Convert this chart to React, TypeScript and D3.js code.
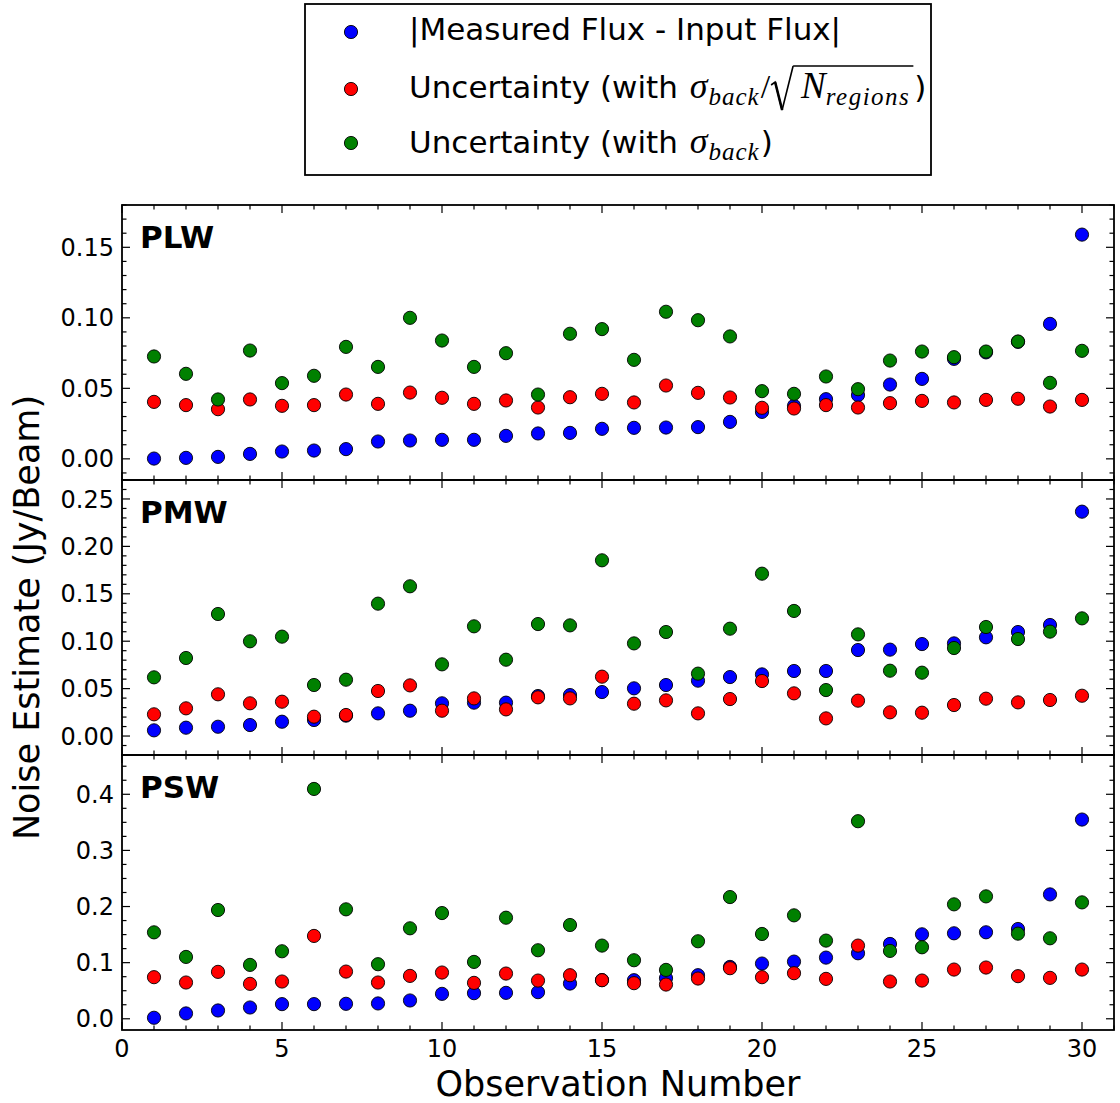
import React, { useEffect, useRef } from "react";
import * as d3 from "d3";

// ---------------- data ----------------
const observationNumbers = [1, 2, 3, 4, 5, 6, 7, 8, 9, 10, 11, 12, 13, 14, 15, 16, 17, 18, 19, 20, 21, 22, 23, 24, 25, 26, 27, 28, 29, 30];

const plwFluxDiff = [0.0002, 0.0007, 0.0014, 0.0035, 0.0052, 0.0059, 0.0069, 0.0123, 0.013, 0.0135, 0.0135, 0.0163, 0.018, 0.0184, 0.0213, 0.022, 0.0222, 0.0225, 0.0262, 0.0333, 0.0376, 0.0423, 0.0452, 0.0527, 0.0567, 0.0709, 0.0755, 0.083, 0.0957, 0.159];
const plwUncRegions = [0.0404, 0.0381, 0.0352, 0.0421, 0.0376, 0.0381, 0.0456, 0.039, 0.047, 0.0433, 0.039, 0.0414, 0.0364, 0.0437, 0.0461, 0.04, 0.052, 0.0468, 0.0435, 0.0362, 0.0357, 0.0381, 0.0364, 0.0395, 0.0411, 0.04, 0.0418, 0.0426, 0.0371, 0.0418];
const plwUncBack = [0.0726, 0.0603, 0.0421, 0.0768, 0.0537, 0.0589, 0.0794, 0.0652, 0.1, 0.0839, 0.0652, 0.0749, 0.0456, 0.0887, 0.092, 0.0702, 0.1043, 0.0983, 0.0868, 0.048, 0.0461, 0.0584, 0.0494, 0.0697, 0.0761, 0.0721, 0.0761, 0.0832, 0.0539, 0.0766];

const pmwFluxDiff = [0.006, 0.0088, 0.0098, 0.0116, 0.0151, 0.0169, 0.0215, 0.0239, 0.0267, 0.0345, 0.0352, 0.0352, 0.0422, 0.0432, 0.0464, 0.0503, 0.0538, 0.0584, 0.0622, 0.065, 0.0686, 0.0686, 0.0907, 0.0911, 0.097, 0.0977, 0.1041, 0.1097, 0.1171, 0.2366];
const pmwUncRegions = [0.0229, 0.0292, 0.044, 0.0345, 0.0362, 0.0204, 0.0222, 0.0475, 0.0534, 0.0267, 0.0397, 0.0281, 0.0408, 0.0397, 0.0626, 0.0341, 0.0376, 0.0239, 0.039, 0.058, 0.045, 0.0186, 0.0373, 0.025, 0.0246, 0.0327, 0.0394, 0.0355, 0.038, 0.0425];
const pmwUncBack = [0.0619, 0.0823, 0.1287, 0.0999, 0.1048, 0.0538, 0.0594, 0.1396, 0.1579, 0.0756, 0.1157, 0.0805, 0.1181, 0.1167, 0.1853, 0.0977, 0.1097, 0.0658, 0.1132, 0.1712, 0.1319, 0.0485, 0.1072, 0.0689, 0.0668, 0.0928, 0.115, 0.1023, 0.1101, 0.1241];

const pswFluxDiff = [0.0018, 0.0095, 0.0148, 0.0201, 0.0261, 0.0261, 0.0267, 0.0273, 0.0326, 0.0444, 0.0456, 0.0462, 0.0474, 0.0628, 0.069, 0.0687, 0.0723, 0.0776, 0.0924, 0.0984, 0.1019, 0.109, 0.1167, 0.1333, 0.1505, 0.1523, 0.1541, 0.16, 0.2216, 0.355];
const pswUncRegions = [0.0741, 0.0646, 0.0836, 0.0622, 0.0664, 0.1476, 0.0841, 0.0646, 0.0764, 0.0824, 0.064, 0.0806, 0.0681, 0.0776, 0.0687, 0.0634, 0.061, 0.0717, 0.0901, 0.0741, 0.0812, 0.0711, 0.1304, 0.0664, 0.0681, 0.0877, 0.0913, 0.0759, 0.0729, 0.0877];
const pswUncBack = [0.154, 0.1102, 0.1938, 0.096, 0.1203, 0.4095, 0.195, 0.0972, 0.1612, 0.1884, 0.1013, 0.1801, 0.1221, 0.1671, 0.1304, 0.1043, 0.0871, 0.1381, 0.2169, 0.1511, 0.1843, 0.1393, 0.352, 0.1209, 0.1274, 0.2039, 0.2181, 0.1517, 0.1434, 0.2074];

const panelNames = ["PLW", "PMW", "PSW"];
const plwYDomain = [-0.015, 0.18];
const pmwYDomain = [-0.02, 0.27];
const pswYDomain = [-0.02, 0.47];
const plwYTicks = [0, 0.05, 0.1, 0.15];
const pmwYTicks = [0, 0.05, 0.1, 0.15, 0.2, 0.25];
const pswYTicks = [0, 0.1, 0.2, 0.3, 0.4];
const plwMinorStep = 0.01;
const pmwMinorStep = 0.01;
const pswMinorStep = 0.025;

const xDomain = [0, 31];
const xMajorTicks = [0, 5, 10, 15, 20, 25, 30];

const seriesColors = ["#0000ff", "#ff0000", "#008000"];
const legendFirstLabel = "|Measured Flux - Input Flux|";
const legendUncPrefix = "Uncertainty (with";
const xAxisTitle = "Observation Number";
const yAxisTitle = "Noise Estimate (Jy/Beam)";

// ---------------- layout ----------------
const W = 1120;
const H = 1103;
const LEFT = 122;
const RIGHT = 1114;
const TOP = 205;
const PANEL_H = 275;
const SANS = "'DejaVu Sans', sans-serif";
const SERIF = "'Liberation Serif', 'DejaVu Serif', serif";

const panels = [
  { name: panelNames[0], domain: plwYDomain, ticks: plwYTicks, minor: plwMinorStep, fmt: d3.format(".2f"), series: [plwFluxDiff, plwUncRegions, plwUncBack] },
  { name: panelNames[1], domain: pmwYDomain, ticks: pmwYTicks, minor: pmwMinorStep, fmt: d3.format(".2f"), series: [pmwFluxDiff, pmwUncRegions, pmwUncBack] },
  { name: panelNames[2], domain: pswYDomain, ticks: pswYTicks, minor: pswMinorStep, fmt: d3.format(".1f"), series: [pswFluxDiff, pswUncRegions, pswUncBack] },
];

const MAJ = 8;
const MIN = 4.5;
const R = 6.6;

function minorTicks(domain: number[], step: number, majors: number[]) {
  const out: number[] = [];
  const start = Math.ceil(domain[0] / step - 1e-9);
  const end = Math.floor(domain[1] / step + 1e-9);
  for (let i = start; i <= end; i++) {
    const v = +(i * step).toFixed(6);
    if (!majors.some((m) => Math.abs(m - v) < 1e-9)) out.push(v);
  }
  return out;
}

const x = d3.scaleLinear().domain(xDomain).range([LEFT, RIGHT]);
const xMinorTicks = d3.range(xDomain[0], xDomain[1] + 1).filter((v) => !xMajorTicks.includes(v));

function Panel({ p, i }: { p: any; i: number }) {
  const top = TOP + i * PANEL_H;
  const bottom = top + PANEL_H;
  const y = d3.scaleLinear().domain(p.domain).range([bottom, top]);
  const minors = minorTicks(p.domain, p.minor, p.ticks);
  const isLast = i === panels.length - 1;
  return (
    <g>
      {p.series.map((vals: number[], si: number) => (
        <g key={si}>
          {vals.map((v, k) => (
            <circle key={k} cx={x(observationNumbers[k])} cy={y(v)} r={R} fill={seriesColors[si]} stroke="#000" strokeWidth={0.9} />
          ))}
        </g>
      ))}
      <g stroke="#000" strokeWidth={1.2}>
        {p.ticks.map((t: number) => (
          <g key={"M" + t}>
            <line x1={LEFT} x2={LEFT + MAJ} y1={y(t)} y2={y(t)} />
            <line x1={RIGHT} x2={RIGHT - MAJ} y1={y(t)} y2={y(t)} />
          </g>
        ))}
        {minors.map((t: number) => (
          <g key={"m" + t}>
            <line x1={LEFT} x2={LEFT + MIN} y1={y(t)} y2={y(t)} />
            <line x1={RIGHT} x2={RIGHT - MIN} y1={y(t)} y2={y(t)} />
          </g>
        ))}
        {xMajorTicks.map((t) => (
          <g key={"xM" + t}>
            <line x1={x(t)} x2={x(t)} y1={bottom} y2={bottom - MAJ} />
            <line x1={x(t)} x2={x(t)} y1={top} y2={top + MAJ} />
          </g>
        ))}
        {xMinorTicks.map((t) => (
          <g key={"xm" + t}>
            <line x1={x(t)} x2={x(t)} y1={bottom} y2={bottom - MIN} />
            <line x1={x(t)} x2={x(t)} y1={top} y2={top + MIN} />
          </g>
        ))}
      </g>
      <rect x={LEFT} y={top} width={RIGHT - LEFT} height={PANEL_H} fill="none" stroke="#000" strokeWidth={1.8} />
      {p.ticks.map((t: number) => (
        <text key={"l" + t} x={LEFT - 8} y={y(t)} dy="0.36em" textAnchor="end" fontFamily={SANS} fontSize={24} fill="#000">
          {p.fmt(t)}
        </text>
      ))}
      <text x={140} y={top + 43} fontFamily={SANS} fontWeight="bold" fontSize={31} fill="#000">
        {p.name}
      </text>
      {isLast &&
        xMajorTicks.map((t) => (
          <text key={"xl" + t} x={x(t)} y={bottom + 27} textAnchor="middle" fontFamily={SANS} fontSize={24} fill="#000">
            {t}
          </text>
        ))}
    </g>
  );
}

function MathLabel({ xPos, baseline, withSqrt }: { xPos: number; baseline: number; withSqrt: boolean }) {
  const ref = useRef<SVGGElement>(null);
  useEffect(() => {
    const g = d3.select(ref.current);
    g.selectAll("*").remove();
    let cx = xPos;
    const add = (txt: string, family: string, size: number, italic: boolean, dy = 0, spacing = 0) => {
      const t = g
        .append("text")
        .attr("x", cx)
        .attr("y", baseline + dy)
        .attr("font-family", family)
        .attr("font-size", size)
        .attr("font-style", italic ? "italic" : "normal")
        .attr("letter-spacing", spacing)
        .attr("fill", "#000")
        .text(txt);
      const w = (t.node() as SVGTextElement).getComputedTextLength();
      cx += w;
      return w;
    };
    add(legendUncPrefix, SANS, 31, false);
    cx += 0.318 * 31 + 2;
    add("σ", SERIF, 36, true);
    cx += 1;
    add("back", SERIF, 25, true, 7, 1);
    if (withSqrt) {
      cx += 1;
      add("/", SERIF, 34, false);
      const rx = cx + 1;
      const topY = baseline - 32;
      g.append("path")
        .attr("d", `M${rx},${baseline - 13} L${rx + 4},${baseline - 16} L${rx + 11},${baseline + 12} L${rx + 22},${topY}`)
        .attr("fill", "none")
        .attr("stroke", "#000")
        .attr("stroke-width", 1.6)
        .attr("stroke-linejoin", "miter");
      g.append("path")
        .attr("d", `M${rx + 4},${baseline - 16} L${rx + 11},${baseline + 12}`)
        .attr("stroke", "#000")
        .attr("stroke-width", 2.6);
      cx = rx + 30;
      add("N", SERIF, 37, true);
      add("regions", SERIF, 25, true, 7, 1.5);
      cx += 3;
      g.append("line")
        .attr("x1", rx + 22)
        .attr("x2", cx)
        .attr("y1", topY)
        .attr("y2", topY)
        .attr("stroke", "#000")
        .attr("stroke-width", 1.6);
      cx += 1;
    } else {
      cx += 1;
    }
    add(")", SANS, 31, false);
  }, [xPos, baseline, withSqrt]);
  return <g ref={ref} />;
}

function Legend() {
  const rows = [32, 89, 143];
  const baselines = [40, 98, 153];
  return (
    <g>
      <rect x={305} y={4} width={626} height={171} fill="#fff" stroke="#000" strokeWidth={1.8} />
      {rows.map((ry, i) => (
        <circle key={i} cx={351} cy={ry} r={R} fill={seriesColors[i]} stroke="#000" strokeWidth={0.9} />
      ))}
      <text x={409} y={baselines[0]} fontFamily={SANS} fontSize={31} fill="#000">
        {legendFirstLabel}
      </text>
      <MathLabel xPos={409} baseline={baselines[1]} withSqrt={true} />
      <MathLabel xPos={409} baseline={baselines[2]} withSqrt={false} />
    </g>
  );
}

export default function App() {
  return (
    <svg width={W} height={H} style={{ position: "absolute", left: 0, top: 0, background: "#fff" }}>
      <rect x={0} y={0} width={W} height={H} fill="#fff" />
      <Legend />
      {panels.map((p, i) => (
        <Panel key={p.name} p={p} i={i} />
      ))}
      <text x={(LEFT + RIGHT) / 2} y={1096} textAnchor="middle" fontFamily={SANS} fontSize={35} fill="#000">
        {xAxisTitle}
      </text>
      <text
        x={39}
        y={TOP + (PANEL_H * 3) / 2}
        textAnchor="middle"
        transform={`rotate(-90, 39, ${TOP + (PANEL_H * 3) / 2})`}
        fontFamily={SANS}
        fontSize={35}
        fill="#000"
      >
        {yAxisTitle}
      </text>
    </svg>
  );
}
